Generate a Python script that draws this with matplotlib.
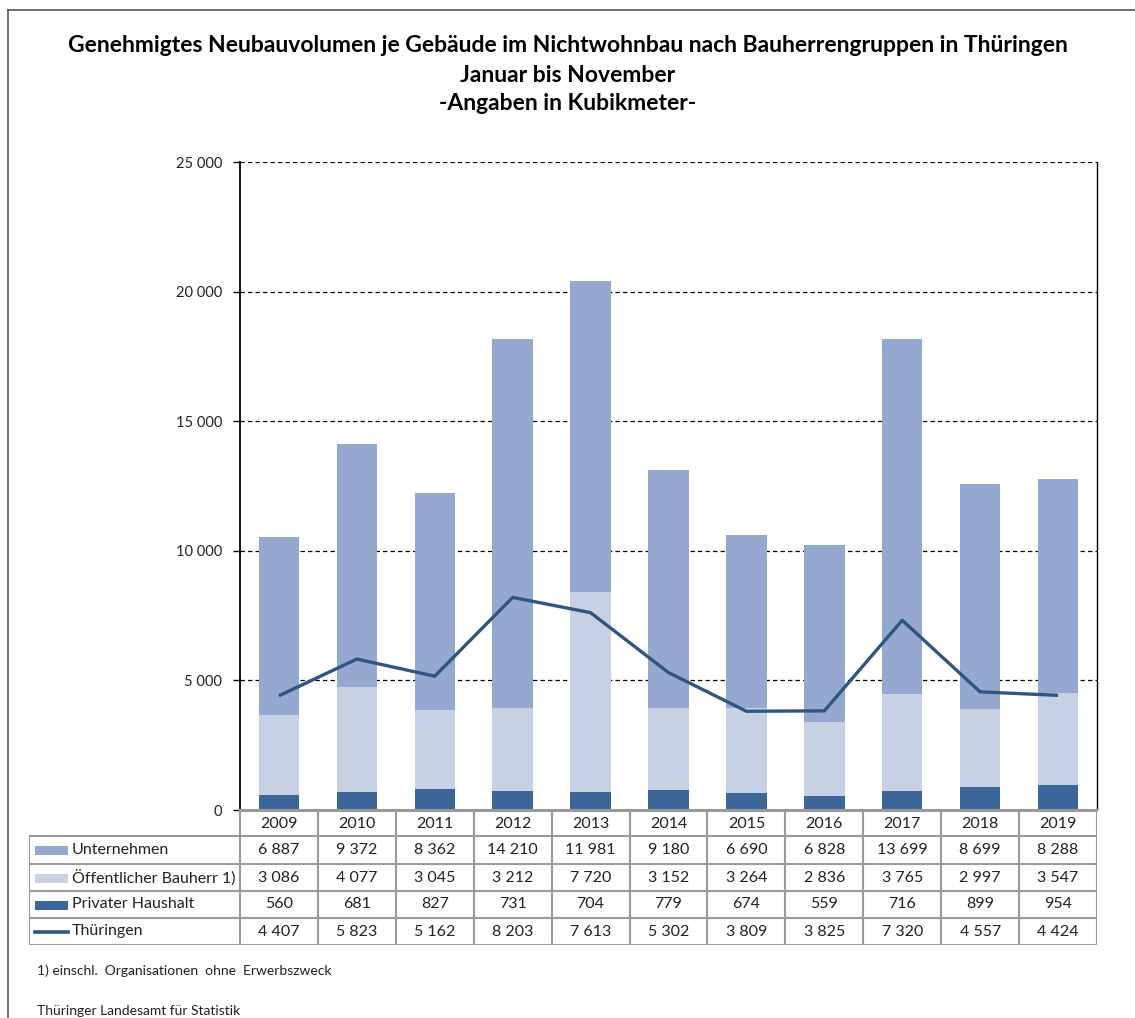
import matplotlib
matplotlib.use("Agg")
import matplotlib.pyplot as plt
from matplotlib.lines import Line2D
from matplotlib.patches import Rectangle

years = ["2009", "2010", "2011", "2012", "2013", "2014", "2015", "2016", "2017", "2018", "2019"]
unternehmen = [6887, 9372, 8362, 14210, 11981, 9180, 6690, 6828, 13699, 8699, 8288]
oeffentlich = [3086, 4077, 3045, 3212, 7720, 3152, 3264, 2836, 3765, 2997, 3547]
privat = [560, 681, 827, 731, 704, 779, 674, 559, 716, 899, 954]
thueringen = [4407, 5823, 5162, 8203, 7613, 5302, 3809, 3825, 7320, 4557, 4424]
series_names = ["Unternehmen", "Öffentlicher Bauherr 1)", "Privater Haushalt", "Thüringen"]
yticks = [0, 5000, 10000, 15000, 20000, 25000]

c_unt = "#95A9D0"
c_oef = "#C8D1E4"
c_pri = "#3D6698"
c_line = "#2F5582"
grid_grey = "#9A9A9A"

plt.rcParams["font.family"] = ["Lato", "DejaVu Sans"]

W, H = 1135, 1018
fig = plt.figure(figsize=(W / 100, H / 100), dpi=100)

def fx(px):
    return px / W

def fy(py):
    return 1 - py / H

# main axes
L, R, T, B = 240, 1097, 162, 810
ax = fig.add_axes([fx(L), fy(B), fx(R - L), (B - T) / H])
x = list(range(len(years)))
bw = 0.52
ax.bar(x, privat, width=bw, color=c_pri, zorder=2)
bot2 = privat
ax.bar(x, oeffentlich, width=bw, bottom=bot2, color=c_oef, zorder=2)
bot3 = [a + b for a, b in zip(privat, oeffentlich)]
ax.bar(x, unternehmen, width=bw, bottom=bot3, color=c_unt, zorder=2)
ax.plot(x, thueringen, color=c_line, lw=2.4, zorder=3, solid_capstyle="butt")

ax.set_xlim(-0.5, len(years) - 0.5)
ax.set_ylim(0, 25000)
ax.set_yticks(yticks)
ax.set_yticklabels([f"{v:,}".replace(",", " ") for v in yticks], fontsize=10.5, color="#222222")
ax.set_xticks([])
for v in yticks[1:]:
    ax.axhline(v, color="black", lw=0.9, ls=(0, (3.5, 2.5)), zorder=1)
ax.spines["top"].set_visible(False)
ax.spines["left"].set_color("black")
ax.spines["left"].set_linewidth(1.3)
ax.spines["right"].set_color("black")
ax.spines["right"].set_linewidth(1.0)
ax.spines["bottom"].set_color(grid_grey)
ax.spines["bottom"].set_linewidth(1.5)
ax.tick_params(axis="y", direction="out", length=5, width=1, pad=8)

# title
tfs = 16.5
fig.text(0.5, fy(45), "Genehmigtes Neubauvolumen je Gebäude im Nichtwohnbau nach Bauherrengruppen in Thüringen",
         ha="center", va="center", fontsize=tfs, fontweight="bold")
fig.text(0.5, fy(75), "Januar bis November", ha="center", va="center", fontsize=tfs, fontweight="bold")
fig.text(0.5, fy(103), "-Angaben in Kubikmeter-", ha="center", va="center", fontsize=tfs, fontweight="bold")

# table axes
TL, TT, TB = 29, 811, 945
colw = (R - L) / len(years)
labw = (L - TL) / colw
axt = fig.add_axes([fx(TL), fy(TB), fx(R - TL), (TB - TT) / H])
axt.set_xlim(-0.5 - labw, len(years) - 0.5)
row_edges = [0, 25, 53, 80, 107, 134]  # pixels from table top
axt.set_ylim(row_edges[-1], 0)
axt.axis("off")

lkw = dict(color=grid_grey, lw=1.5, solid_capstyle="projecting")
axt.add_line(Line2D([-0.5, len(years) - 0.5], [0, 0], **lkw))
for ry in row_edges[1:]:
    axt.add_line(Line2D([-0.5 - labw, len(years) - 0.5], [ry, ry], **lkw))
axt.add_line(Line2D([-0.5 - labw, -0.5 - labw], [row_edges[1], row_edges[-1]], **lkw))
for i in range(len(years) + 1):
    axt.add_line(Line2D([i - 0.5, i - 0.5], [0, row_edges[-1]], **lkw))

fs = 11.5
for i, yv in enumerate(years):
    axt.text(i, (row_edges[0] + row_edges[1]) / 2, yv, ha="center", va="center", fontsize=fs, color="#222222")

rows = [unternehmen, oeffentlich, privat, thueringen]
for r, vals in enumerate(rows):
    yc = (row_edges[r + 1] + row_edges[r + 2]) / 2
    for i, v in enumerate(vals):
        axt.text(i, yc, f"{v:,}".replace(",", " "), ha="center", va="center", fontsize=fs, color="#222222")
    x0 = -0.5 - labw + 6 / colw
    x1 = x0 + 33 / colw
    if r < 3:
        col = [c_unt, c_oef, c_pri][r]
        axt.add_patch(Rectangle((x0, yc - 4), x1 - x0, 9, color=col, lw=0))
    else:
        axt.add_line(Line2D([x0, x1], [yc + 0.5, yc + 0.5], color=c_line, lw=2.6))
    axt.text(x1 + 4 / colw, yc, series_names[r], ha="left", va="center", fontsize=fs, color="#222222")

# footnotes
fig.text(fx(37), fy(971), "1) einschl.  Organisationen  ohne  Erwerbszweck", ha="left", va="center",
         fontsize=10, color="#222222")
fig.text(fx(37), fy(1011), "Thüringer Landesamt für Statistik", ha="left", va="center",
         fontsize=10, color="#222222")

# frame lines
fig.add_artist(Line2D([fx(8), fx(8)], [fy(10), 0], color="#555555", lw=1.2, transform=fig.transFigure))
fig.add_artist(Line2D([fx(8), 1], [fy(10), fy(10)], color="#555555", lw=1.2, transform=fig.transFigure))

fig.savefig("out.png", dpi=100)
